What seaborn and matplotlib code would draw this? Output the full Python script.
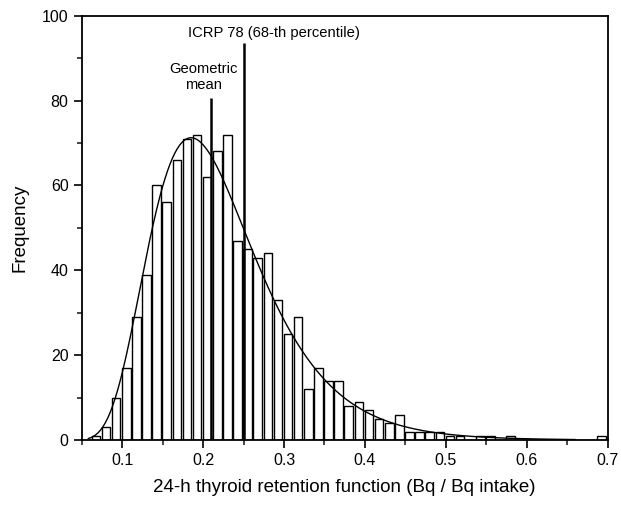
import numpy as np
import pandas as pd
import seaborn as sns
import matplotlib
matplotlib.use("Agg")
import matplotlib.pyplot as plt
from matplotlib.ticker import MultipleLocator

# Histogram of the 24-h thyroid retention function (bin width 0.0125)
bin_width = 0.0125
bin_centers = [0.0675 + bin_width * k for k in range(51)]
counts = [1, 3, 10, 17, 29, 39, 60, 56, 66, 71,
          72, 62, 68, 72, 47, 45, 43, 44, 33, 25,
          29, 12, 17, 14, 14, 8, 9, 7, 5, 4,
          6, 2, 2, 2, 2, 1, 1, 0, 1, 1,
          0, 1, 0, 0, 0, 0, 0, 0, 0, 0,
          1]

# Log-normal fit parameters
geo_mean = 0.21
geo_sigma = 0.355
n_samples = 1000
icrp78 = 0.25

df = pd.DataFrame({"retention": bin_centers, "count": counts})

xs = np.linspace(0.058, 0.66, 400)
fit = (n_samples * bin_width / (xs * geo_sigma * np.sqrt(2 * np.pi))
       * np.exp(-(np.log(xs) - np.log(geo_mean)) ** 2 / (2 * geo_sigma ** 2)))
fit_df = pd.DataFrame({"retention": xs, "fit": fit})

sns.set_theme(style="ticks")
plt.rcParams["font.family"] = ["Liberation Sans", "DejaVu Sans"]
plt.rcParams["text.color"] = "black"
plt.rcParams["axes.labelcolor"] = "black"

fig = plt.figure(figsize=(6.21, 5.07), dpi=100)
ax = fig.add_axes([0.1316, 0.1321, 0.8470, 0.8369])

lo = bin_centers[0] - bin_width / 2
hi = bin_centers[-1] + bin_width / 2
sns.histplot(data=df, x="retention", weights="count", binwidth=bin_width,
             binrange=(lo, hi), shrink=0.85,
             color="white", edgecolor="black", linewidth=1.0, alpha=1, ax=ax)
sns.lineplot(data=fit_df, x="retention", y="fit", color="black", linewidth=1.0, ax=ax)

ax.vlines(geo_mean, 0, 80.5, color="black", linewidth=1.8)
ax.vlines(icrp78, 0, 93.5, color="black", linewidth=1.8)
ax.text(0.2, 85.5, "Geometric\nmean", ha="center", va="center", fontsize=10.6,
        linespacing=1.15)
ax.text(0.287, 95.9, "ICRP 78 (68-th percentile)", ha="center", va="center", fontsize=10.6)

ax.set_xlim(0.05, 0.7)
ax.set_ylim(0, 100)
ax.xaxis.set_major_locator(MultipleLocator(0.1))
ax.xaxis.set_minor_locator(MultipleLocator(0.05))
ax.yaxis.set_major_locator(MultipleLocator(20))
ax.yaxis.set_minor_locator(MultipleLocator(10))
ax.set_xticks([0.1, 0.2, 0.3, 0.4, 0.5, 0.6, 0.7])
ax.set_xticklabels(["0.1", "0.2", "0.3", "0.4", "0.5", "0.6", "0.7"])
ax.tick_params(which="major", direction="out", length=6, width=1.2, labelsize=11.5, colors="black")
ax.tick_params(which="minor", direction="out", length=3.5, width=1.2)

for s in ax.spines.values():
    s.set_visible(True)
    s.set_linewidth(1.3)
    s.set_color("black")

ax.set_xlabel("24-h thyroid retention function (Bq / Bq intake)", fontsize=13.5, labelpad=8)
ax.set_ylabel("Frequency", fontsize=13.5, labelpad=10)

fig.savefig("out.png", dpi=100, facecolor="white")
